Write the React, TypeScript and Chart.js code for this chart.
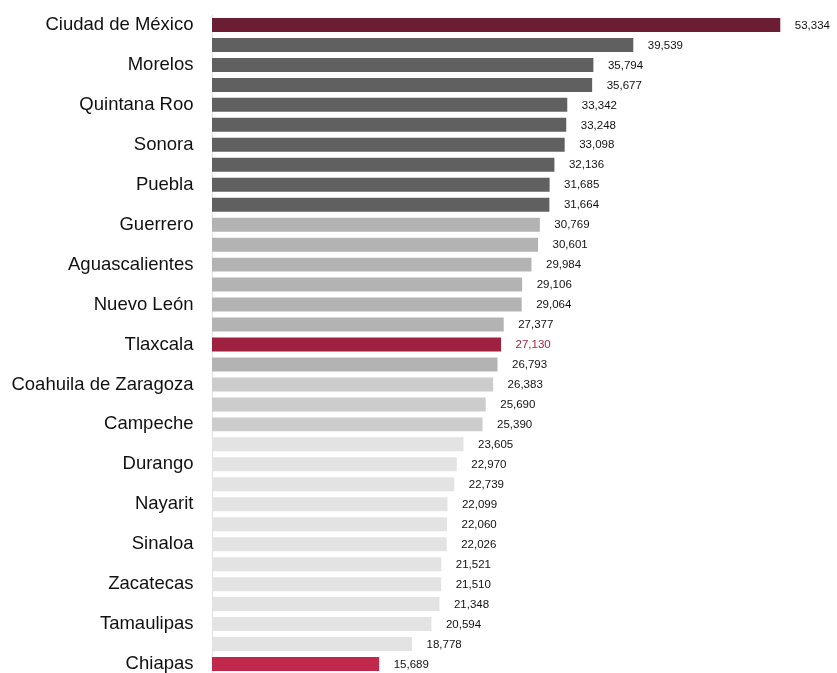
import React, { useEffect, useRef } from "react";
import { Chart, registerables } from "chart.js";

Chart.register(...registerables);

const categories: string[] = [
  "Ciudad de México", "Baja California Sur", "Morelos", "Baja California", "Quintana Roo",
  "Querétaro", "Sonora", "Chihuahua", "Puebla", "Jalisco", "Guerrero", "Colima",
  "Aguascalientes", "Nacional", "Nuevo León", "México", "Tlaxcala", "Guanajuato",
  "Coahuila de Zaragoza", "Yucatán", "Campeche", "San Luis Potosí", "Durango", "Tabasco",
  "Nayarit", "Hidalgo", "Sinaloa", "Michoacán", "Zacatecas", "Veracruz", "Tamaulipas",
  "Oaxaca", "Chiapas",
];

const values: number[] = [
  53334, 39539, 35794, 35677, 33342, 33248, 33098, 32136, 31685, 31664, 30769, 30601,
  29984, 29106, 29064, 27377, 27130, 26793, 26383, 25690, 25390, 23605, 22970, 22739,
  22099, 22060, 22026, 21521, 21510, 21348, 20594, 18778, 15689,
];

const barColors: string[] = [
  "#6b1d33",
  "#606060", "#606060", "#606060", "#606060", "#606060", "#606060", "#606060", "#606060", "#606060",
  "#b3b3b3", "#b3b3b3", "#b3b3b3", "#b3b3b3", "#b3b3b3", "#b3b3b3",
  "#9e2240",
  "#b3b3b3",
  "#cccccc", "#cccccc", "#cccccc",
  "#e3e3e3", "#e3e3e3", "#e3e3e3", "#e3e3e3", "#e3e3e3", "#e3e3e3", "#e3e3e3", "#e3e3e3",
  "#e3e3e3", "#e3e3e3", "#e3e3e3",
  "#c0294b",
];

const labelColors: string[] = categories.map((c) => (c === "Tlaxcala" ? "#9e2240" : "#111111"));

const FONT = "'Liberation Sans', Arial, Helvetica, sans-serif";

const valueLabels = {
  id: "valueLabels",
  afterDatasetsDraw(chart: any) {
    const ctx = chart.ctx;
    const meta = chart.getDatasetMeta(0);
    ctx.save();
    ctx.font = `11.5px ${FONT}`;
    ctx.textAlign = "left";
    ctx.textBaseline = "middle";
    meta.data.forEach((bar: any, i: number) => {
      ctx.fillStyle = labelColors[i];
      ctx.fillText(values[i].toLocaleString("en-US"), bar.x + 14.5, bar.y + 0.5);
    });
    ctx.restore();
  },
};

export default function App() {
  const ref = useRef<HTMLCanvasElement | null>(null);
  useEffect(() => {
    if (!ref.current) return;
    const chart = new Chart(ref.current, {
      type: "bar",
      data: {
        labels: categories,
        datasets: [
          {
            data: values,
            backgroundColor: barColors,
            borderWidth: 0,
            categoryPercentage: 0.7,
            barPercentage: 1,
          },
        ],
      },
      options: {
        indexAxis: "y",
        animation: false,
        responsive: false,
        maintainAspectRatio: false,
        layout: { padding: { top: 15, bottom: 6, left: 0, right: 7 } },
        plugins: { legend: { display: false }, tooltip: { enabled: false }, title: { display: false } },
        scales: {
          x: { display: false, min: 0, max: 58000 },
          y: {
            afterFit: (scale: any) => {
              scale.width = 212;
              scale.paddingTop = 0;
              scale.paddingBottom = 0;
            },
            grid: { display: false, drawTicks: false },
            border: { display: true, color: "#e2e2e2", width: 1 },
            ticks: {
              autoSkip: false,
              padding: 18.5,
              color: "#111111",
              font: { family: FONT, size: 18.5 },
              callback: (_v: any, i: number) => (i % 2 === 0 ? categories[i] : ""),
            },
          },
        },
      },
      plugins: [valueLabels],
    });
    return () => chart.destroy();
  }, []);
  return (
    <div style={{ position: "absolute", left: 0, top: 0, width: 837, height: 680, background: "#fff" }}>
      <canvas ref={ref} width={837} height={680} style={{ width: 837, height: 680, display: "block" }} />
    </div>
  );
}
